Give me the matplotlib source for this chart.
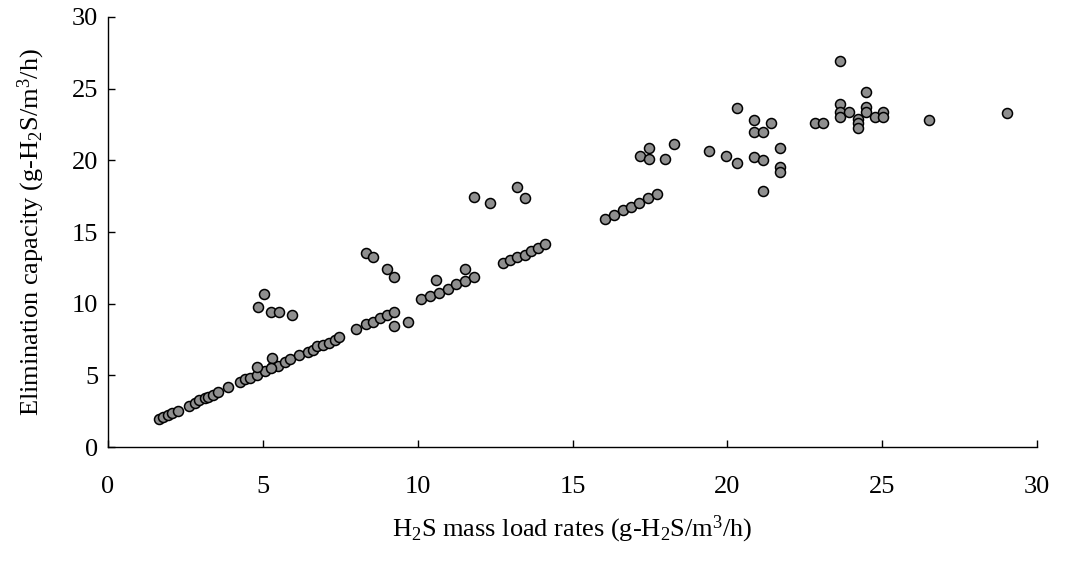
import numpy as np
import matplotlib
matplotlib.use("Agg")
import matplotlib.pyplot as plt

plt.rcParams['font.family'] = ['Liberation Serif', 'DejaVu Serif']
plt.rcParams['mathtext.fontset'] = 'custom'
plt.rcParams['mathtext.rm'] = 'Liberation Serif'
plt.rcParams['mathtext.default'] = 'regular'

# H2S mass load rate (g-H2S/m3/h)
load_rate = [
    1.65, 1.78, 1.95, 2.05, 2.27, 2.62, 2.81, 2.94, 3.13, 3.24, 3.38, 3.54,
    3.88, 4.26, 4.42, 4.58, 4.80, 5.06, 5.28, 5.49, 5.71, 5.89, 6.17, 6.46,
    6.62, 6.75, 6.95, 7.14, 7.32, 7.46, 4.82, 5.28, 5.26,
    8.00, 8.32, 8.56, 8.77, 9.02, 9.24, 9.24, 9.69,
    10.12, 10.41, 10.69, 10.98, 11.25, 11.54, 11.82, 10.58, 11.54,
    12.75, 12.99, 13.21, 13.45, 13.67, 13.88, 14.12,
    16.05, 16.33, 16.62, 16.89, 17.16, 17.45, 17.73,
    4.83, 5.04, 5.26, 5.52, 5.95,
    8.32, 8.56, 9.02, 9.24,
    11.82, 12.35, 13.20, 13.48,
    17.18, 17.46, 17.46, 18.00, 18.29,
    19.42, 19.97, 20.31, 20.31, 20.87, 20.87, 21.14, 21.41, 20.87, 21.14,
    21.69, 21.69, 21.69, 21.14,
    22.82, 23.10,
    23.65, 23.65, 23.65, 23.65, 23.94, 24.23, 24.23, 24.23, 24.49, 24.49,
    24.49, 24.77, 25.04, 25.04, 26.52, 29.02,
]

# elimination capacity (g-H2S/m3/h)
elim_cap = [
    1.93, 2.07, 2.23, 2.39, 2.53, 2.86, 3.09, 3.28, 3.40, 3.51, 3.63, 3.86,
    4.21, 4.56, 4.72, 4.84, 5.02, 5.32, 5.60, 5.67, 5.95, 6.12, 6.42, 6.65,
    6.77, 7.05, 7.12, 7.28, 7.47, 7.66, 5.60, 6.19, 5.53,
    8.21, 8.58, 8.75, 9.00, 9.21, 9.44, 8.47, 8.70,
    10.31, 10.54, 10.77, 11.02, 11.35, 11.58, 11.84, 11.65, 12.44,
    12.82, 13.05, 13.28, 13.40, 13.68, 13.91, 14.15,
    15.93, 16.17, 16.54, 16.77, 17.05, 17.40, 17.66,
    9.79, 10.65, 9.42, 9.42, 9.19,
    13.56, 13.28, 12.44, 11.84,
    17.42, 17.05, 18.12, 17.40,
    20.31, 20.08, 20.89, 20.08, 21.14,
    20.66, 20.31, 19.84, 23.68, 22.82, 21.96, 21.96, 22.59, 20.26, 20.03,
    20.89, 19.56, 19.21, 17.89,
    22.59, 22.59,
    26.96, 23.94, 23.36, 23.05, 23.36, 22.87, 22.59, 22.24, 24.77, 23.70,
    23.36, 23.05, 23.36, 23.05, 22.82, 23.33,
]

ticks = [0, 5, 10, 15, 20, 25, 30]

fig = plt.figure(figsize=(10.76, 5.61), dpi=100)
ax = fig.add_axes([0.1004, 0.2032, 0.8634, 0.7665])

ax.plot(load_rate, elim_cap, linestyle='none', marker='o', markersize=7.2,
        markerfacecolor='#8f8f8f', markeredgecolor='black', markeredgewidth=1.1)

ax.set_xlim(0, 30)
ax.set_ylim(0, 30)
ax.set_xticks(ticks)
ax.set_yticks(ticks)

for side in ['top', 'right']:
    ax.spines[side].set_visible(False)
for side in ['left', 'bottom']:
    ax.spines[side].set_linewidth(1.0)

ax.tick_params(axis='both', direction='in', length=5, width=1.0, labelsize=19)
ax.tick_params(axis='x', pad=21)
ax.tick_params(axis='y', pad=7)

ax.set_xlabel('H$_2$S mass load rates (g-H$_2$S/m$^3$/h)', fontsize=19, labelpad=11)
ax.set_ylabel('Elimination capacity (g-H$_2$S/m$^3$/h)', fontsize=19, labelpad=18)

fig.savefig('out.png', dpi=100)
